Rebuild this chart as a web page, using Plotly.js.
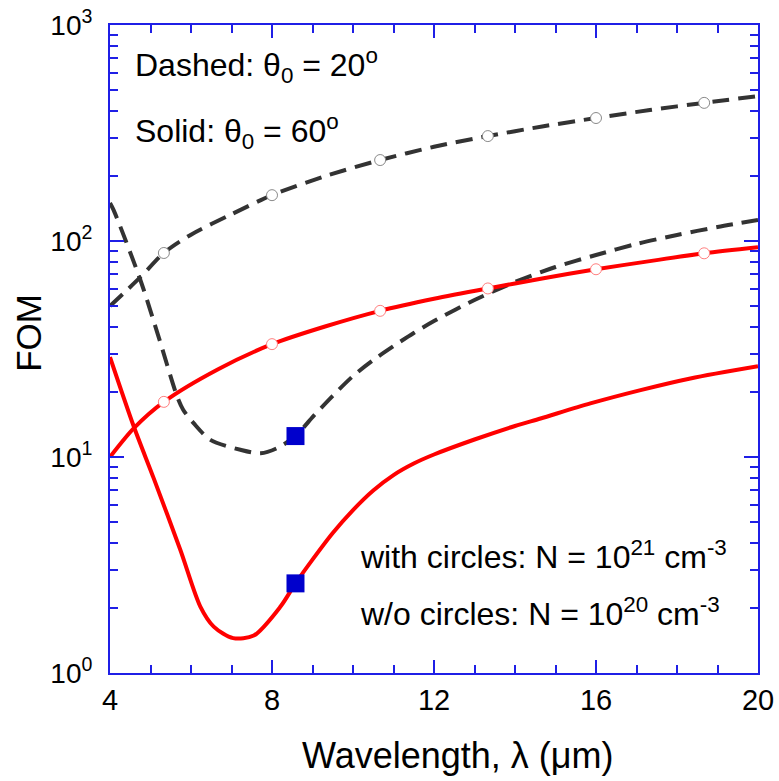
<!DOCTYPE html>
<html>
<head>
<meta charset="utf-8">
<script src="https://cdn.plot.ly/plotly-3.0.1.min.js"></script>
<style>html,body{margin:0;padding:0;background:#fff;}#chart{width:779px;height:781px;}</style>
</head>
<body>
<div id="chart"></div>
<script>
// Upper dashed: theta0 = 20 deg, N = 1e21 (with circles)
var xDash21 = [4, 4.75, 5.33, 6, 7, 8, 9.33, 10.67, 12, 13.33, 14.67, 16, 17.33, 18.67, 20];
var yDash21 = [50, 68, 88, 107, 133, 163, 200, 237, 273, 306, 339, 371, 404, 436, 469];
// Upper solid: theta0 = 60 deg, N = 1e21 (with circles)
var xSolid21 = [4, 4.59, 5.33, 6.67, 8, 9.33, 10.67, 12, 13.33, 14.67, 16, 17.33, 18.67, 20];
var ySolid21 = [10, 13.6, 18, 25.5, 33.3, 40.3, 47.5, 54, 60.3, 67, 74, 80.7, 87.7, 93.5];
// Lower dashed: theta0 = 20 deg, N = 1e20
var xDash20 = [4, 4.09, 4.75, 5.2, 5.66, 5.81, 6.07, 6.48, 7.22, 7.72, 8.13, 8.58, 9, 9.5, 10, 10.5, 11, 11.5, 12, 13, 14, 15, 16, 17, 18, 19, 20];
var yDash20 = [150, 139, 66, 36, 19, 16.5, 14.3, 12, 10.8, 10.4, 11, 12.5, 15.3, 19.2, 23.7, 28.1, 32.6, 37.5, 42.6, 53.3, 64.6, 75.8, 86.1, 96.9, 106.6, 116.1, 125.1];
// Lower solid: theta0 = 60 deg, N = 1e20
var xSolid20 = [4, 4.59, 5.08, 5.74, 6.23, 6.56, 7.04, 7.55, 8.21, 8.58, 9, 9.5, 10, 10.5, 11, 11.5, 12, 13, 14, 14.63, 15.86, 17.1, 18.33, 20];
var ySolid20 = [29, 13.8, 7.96, 3.7, 2.03, 1.64, 1.45, 1.49, 2.03, 2.6, 3.35, 4.45, 5.68, 7.0, 8.25, 9.33, 10.27, 12.05, 13.92, 15.08, 17.7, 20.4, 23.1, 26.3];
// Circle markers
var xCircles = [5.33, 8, 10.67, 13.33, 16, 18.67];
var yCirclesDash = [88, 163, 237, 306, 371, 436];
var yCirclesSolid = [18, 33.3, 47.5, 60.3, 74, 87.7];
// Blue squares
var xSquares = [8.58, 8.58];
var ySquares = [12.5, 2.6];
// Axis ticks
var xTicks = [4, 8, 12, 16, 20];
var yTickVals = [1, 10, 100, 1000];
var yTickText = ['10<sup>0</sup>', '10<sup>1</sup>', '10<sup>2</sup>', '10<sup>3</sup>'];

var yMinor = [];
for (var d = 1; d <= 100; d *= 10) { for (var k = 2; k <= 9; k++) yMinor.push(k * d); }

var FONT = 'Liberation Sans, Arial, sans-serif';
var AX = '#1f1fe6';
var DASH = '#333333';
var RED = '#ff0000';

var traces = [
  {x: xDash21, y: yDash21, mode: 'lines', line: {color: DASH, width: 4, dash: '17px,9px', shape: 'spline', smoothing: 0.8}, name: 'dash21', hoverinfo: 'skip'},
  {x: xDash20, y: yDash20, mode: 'lines', line: {color: DASH, width: 4, dash: '17px,9px', shape: 'spline', smoothing: 0.8}, name: 'dash20', hoverinfo: 'skip'},
  {x: xSolid21, y: ySolid21, mode: 'lines', line: {color: RED, width: 4, shape: 'spline', smoothing: 0.8}, name: 'solid21', hoverinfo: 'skip'},
  {x: xSolid20, y: ySolid20, mode: 'lines', line: {color: RED, width: 4, shape: 'spline', smoothing: 0.8}, name: 'solid20', hoverinfo: 'skip'},
  {x: xCircles, y: yCirclesDash, mode: 'markers', marker: {symbol: 'circle', size: 11, color: '#ffffff', line: {color: '#8a8a8a', width: 1}}, name: 'c1'},
  {x: xCircles, y: yCirclesSolid, mode: 'markers', marker: {symbol: 'circle', size: 11, color: '#ffffff', line: {color: '#ff8080', width: 1}}, name: 'c2'},
  {x: xSquares, y: ySquares, mode: 'markers', marker: {symbol: 'square', size: 18, color: '#0000cc', line: {width: 0}}, name: 'sq'}
];

var ann = function (text, x, y, size) {
  return {text: text, xref: 'paper', yref: 'paper', x: x, y: y,
    xanchor: 'left', yanchor: 'middle',
    showarrow: false, font: {family: FONT, size: size, color: '#000'}};
};

var layout = {
  width: 779, height: 781,
  margin: {l: 110, r: 21, t: 25, b: 108},
  paper_bgcolor: '#fff', plot_bgcolor: '#fff',
  showlegend: false,
  font: {family: FONT, color: '#000'},
  xaxis: {
    range: [4, 20], tickmode: 'array', tickvals: xTicks,
    ticks: 'inside', ticklen: 13, tickwidth: 2, tickcolor: AX,
    showline: true, linecolor: AX, linewidth: 2, mirror: 'ticks',
    showgrid: false, zeroline: false,
    minor: {ticks: 'inside', ticklen: 8, tickwidth: 2, tickcolor: AX, tick0: 4, dtick: 1, showgrid: false},
    tickfont: {family: FONT, size: 29, color: '#000'},
    ticklabelstandoff: 0
  },
  yaxis: {
    type: 'log', range: [0, 3], tickmode: 'array', tickvals: yTickVals, ticktext: yTickText,
    ticks: 'inside', ticklen: 14, tickwidth: 2, tickcolor: AX,
    showline: true, linecolor: AX, linewidth: 2, mirror: 'ticks',
    showgrid: false, zeroline: false,
    minor: {ticks: 'inside', ticklen: 8, tickwidth: 2, tickcolor: AX, tickmode: 'array', tickvals: yMinor, showgrid: false},
    tickfont: {family: FONT, size: 28, color: '#000'},
    ticklabelstandoff: 10
  },
  annotations: [
    {text: 'Wavelength, λ (μm)', xref: 'paper', yref: 'paper', x: 0.536, y: -0.128, xanchor: 'center', yanchor: 'middle', showarrow: false, font: {family: FONT, size: 36, color: '#000'}},
    {text: 'FOM', xref: 'paper', yref: 'paper', x: -0.125, y: 0.525, xanchor: 'center', yanchor: 'middle', textangle: -90, showarrow: false, font: {family: FONT, size: 35, color: '#000'}},
    ann('Dashed: θ<sub>0</sub> = 20<sup>o</sup>', 0.036, 0.937, 32),
    ann('Solid: θ<sub>0</sub> = 60<sup>o</sup>', 0.036, 0.835, 32),
    ann('with circles: N = 10<sup>21</sup> cm<sup>-3</sup>', 0.383, 0.182, 32),
    ann('w/o circles: N = 10<sup>20</sup> cm<sup>-3</sup>', 0.383, 0.094, 32)
  ]
};

Plotly.newPlot('chart', traces, layout, {staticPlot: true, displayModeBar: false});
</script>
</body>
</html>
